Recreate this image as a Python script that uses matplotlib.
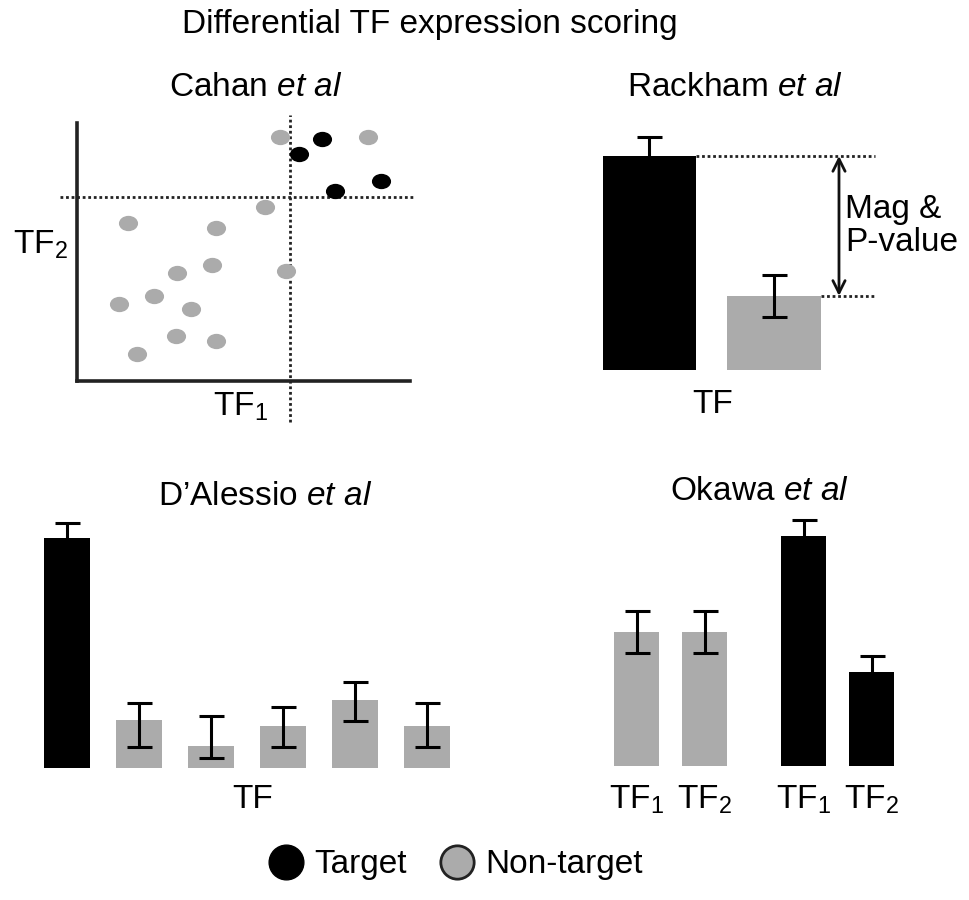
import numpy as np
import matplotlib.pyplot as plt
from matplotlib.lines import Line2D
from matplotlib.path import Path
from matplotlib.transforms import Affine2D

plt.rcParams["font.family"] = ["Liberation Sans", "DejaVu Sans"]
plt.rcParams["mathtext.fontset"] = "custom"
plt.rcParams["mathtext.rm"] = "Liberation Sans"
plt.rcParams["mathtext.it"] = "Liberation Sans:italic"

BLACK = "#000000"
GRAY = "#ababab"
FS = 24

# Cahan et al: TF1 / TF2 expression (arbitrary units)
non_tf1 = [6.10, 8.74, 5.65, 1.53, 4.17, 4.05, 3.00, 6.28, 2.31, 1.26, 3.42, 2.97, 4.17, 1.80]
non_tf2 = [9.46, 9.46, 6.74, 6.12, 5.93, 4.50, 4.19, 4.26, 3.29, 2.98, 2.79, 1.74, 1.55, 1.05]
tgt_tf1 = [7.36, 6.67, 7.75, 9.13]
tgt_tf2 = [9.38, 8.80, 7.36, 7.75]
thr_tf1, thr_tf2 = 6.40, 7.13

# Rackham et al: target vs non-target expression of one TF
rack_val = [100, 34.6]
rack_err = [8.9, 10.0]
rack_col = [BLACK, GRAY]

# D'Alessio et al: target vs five non-target samples
dal_val = [100, 20.9, 9.6, 18.3, 29.6, 18.3]
dal_err_lo = [6.5, 11.7, 5.2, 9.1, 9.1, 9.1]
dal_err_hi = [6.5, 7.4, 13.0, 8.3, 7.8, 10.0]
dal_col = [BLACK] + [GRAY] * 5

# Okawa et al: TF1/TF2 in non-target and target
oka_lab = [r"TF$_1$", r"TF$_2$", r"TF$_1$", r"TF$_2$"]
oka_val = [58.3, 58.3, 100, 40.9]
oka_err = [9.3, 9.3, 7.0, 7.0]
oka_col = [GRAY, GRAY, BLACK, BLACK]

W, H = 969, 900
fig = plt.figure(figsize=(W / 100, H / 100), dpi=100)


def px_axes(l, t, r, b):
    return fig.add_axes([l / W, 1 - b / H, (r - l) / W, (b - t) / H])


def ftext(x, y, s, **kw):
    kw.setdefault("ha", "center")
    kw.setdefault("va", "center")
    kw.setdefault("fontsize", FS)
    fig.text(x / W, 1 - y / H, s, **kw)


ekw = dict(fmt="none", ecolor=BLACK, elinewidth=2.2, capsize=9, capthick=2.2, zorder=3)
ell = Path.unit_circle().transformed(Affine2D().scale(1.25, 1.0))

ftext(430, 25, "Differential TF expression scoring")

# --- Cahan scatter
ax1 = px_axes(77, 123, 410, 381)
ax1.set_xlim(0, 10); ax1.set_ylim(0, 10)
ax1.scatter(non_tf1, non_tf2, s=190, marker=ell, color=GRAY, lw=0, clip_on=False, zorder=3)
ax1.scatter(tgt_tf1, tgt_tf2, s=190, marker=ell, color=BLACK, lw=0, clip_on=False, zorder=3)
ax1.plot([thr_tf1, thr_tf1], [-1.6, 10.3], ls=(0, (1, 1)), lw=2, color="#222", clip_on=False)
ax1.plot([-0.5, 10.1], [thr_tf2, thr_tf2], ls=(0, (1, 1)), lw=2, color="#222", clip_on=False)
for s in ["top", "right"]:
    ax1.spines[s].set_visible(False)
for s in ["left", "bottom"]:
    ax1.spines[s].set_linewidth(2.6); ax1.spines[s].set_color("#222")
ax1.set_xticks([]); ax1.set_yticks([])
ftext(256, 87, r"Cahan $\mathit{et\ al}$")
ftext(240, 407, r"TF$_1$")
ftext(40, 245, r"TF$_2$")

# --- Rackham bars
ax2 = px_axes(580, 120, 900, 370)
ax2.set_xlim(-0.558, 2.012); ax2.set_ylim(0, 116.8); ax2.axis("off")
x2 = np.arange(len(rack_val))
ax2.bar(x2, rack_val, width=0.75, color=rack_col)
ax2.errorbar(x2, rack_val, yerr=rack_err, **ekw)
xe = 1.811
ax2.plot([x2[0] + 0.375, xe], [rack_val[0]] * 2, ls=(0, (1, 1)), lw=2, color="#222")
ax2.plot([x2[1] + 0.375, xe], [rack_val[1]] * 2, ls=(0, (1, 1)), lw=2, color="#222")
ax2.annotate("", xy=(1.522, rack_val[0]), xytext=(1.522, rack_val[1]),
             arrowprops=dict(arrowstyle="<->", lw=2, color="#111", mutation_scale=22,
                             shrinkA=0, shrinkB=0))
ax2.text(1.57, (rack_val[0] + rack_val[1]) / 2, "Mag &\nP-value", ha="left", va="center",
         fontsize=FS, linespacing=1.1)
ftext(735, 87, r"Rackham $\mathit{et\ al}$")
ftext(713, 405, "TF")

# --- D'Alessio bars
ax3 = px_axes(20, 500, 480, 768)
ax3.set_xlim(-0.653, 5.736); ax3.set_ylim(0, 116.5); ax3.axis("off")
x3 = np.arange(len(dal_val))
ax3.bar(x3, dal_val, width=0.64, color=dal_col)
ax3.errorbar(x3, dal_val, yerr=[dal_err_lo, dal_err_hi], **ekw)
ftext(265, 497, r"D’Alessio $\mathit{et\ al}$")
ftext(253, 800, "TF")

# --- Okawa bars
ax4 = px_axes(580, 500, 960, 766)
ax4.set_xlim(-0.831, 4.757); ax4.set_ylim(0, 115.7); ax4.axis("off")
x4 = np.r_[np.arange(2), np.arange(2) + 2.46]
ax4.bar(x4, oka_val, width=0.66, color=oka_col)
ax4.errorbar(x4, oka_val, yerr=oka_err, **ekw)
for xi, lab in zip(x4, oka_lab):
    ax4.text(xi, -14.5, lab, ha="center", va="center", fontsize=FS, clip_on=False)
ftext(759, 492, r"Okawa $\mathit{et\ al}$")

# --- legend
handles = [Line2D([], [], ls="", marker="o", ms=25, mfc=BLACK, mec=BLACK, label="Target"),
           Line2D([], [], ls="", marker="o", ms=24, mfc=GRAY, mec="#222", mew=2,
                  label="Non-target")]
fig.legend(handles=handles, loc="center", bbox_to_anchor=(456 / W, 1 - 865 / H), ncol=2,
           frameon=False, fontsize=FS, handlelength=1.0, handletextpad=0.35,
           columnspacing=1.0)

fig.savefig("out.png", dpi=100)
